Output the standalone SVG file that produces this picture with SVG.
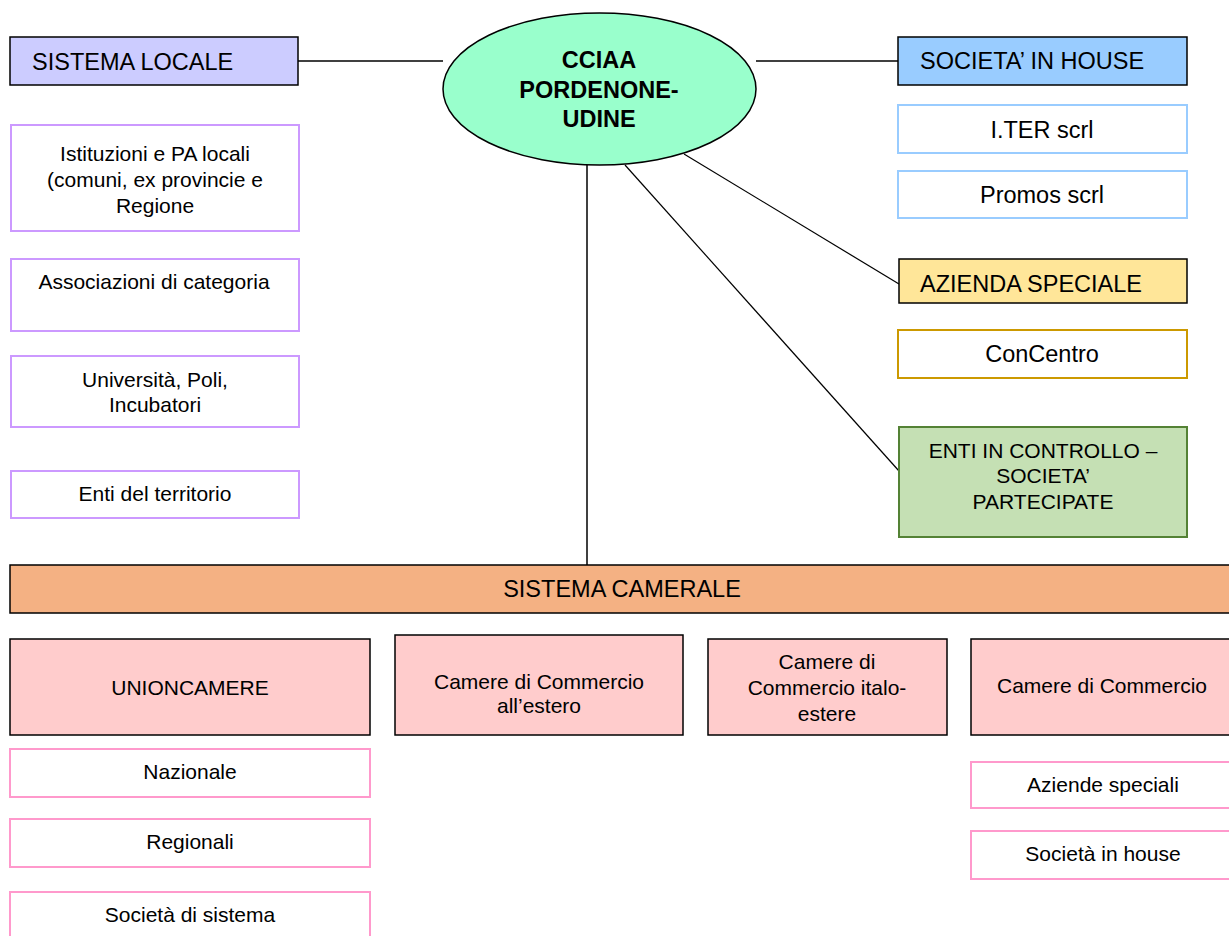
<svg xmlns="http://www.w3.org/2000/svg" width="1229" height="936" viewBox="0 0 1229 936">
<style>
text{font-family:"Liberation Sans",Arial,sans-serif;fill:#000}
.h{font-size:23.5px}
.s{font-size:21px;text-anchor:middle}
.m{font-size:23.5px;text-anchor:middle}
.b{font-size:23.5px;font-weight:bold;text-anchor:middle}
.hdr{stroke:#000;stroke-width:1.5}
.loc{fill:#fff;stroke:#cc99ff;stroke-width:2}
.inh{fill:#fff;stroke:#99ccff;stroke-width:2}
.pink{fill:#ffcccc;stroke:#000;stroke-width:1.5}
.sub{fill:#fff;stroke:#ff99cc;stroke-width:2}
.c{stroke:#000;fill:none}
</style>
<rect width="1229" height="936" fill="#fff"/>
<g id="connectors">
<line class="c" x1="298" y1="61" x2="443" y2="61" stroke-width="1.5"/>
<line class="c" x1="756" y1="61" x2="898" y2="61" stroke-width="1.5"/>
<line class="c" x1="587" y1="165" x2="587" y2="565" stroke-width="1.5"/>
<line class="c" x1="684" y1="154" x2="899" y2="284" stroke-width="1.2"/>
<line class="c" x1="625" y1="165" x2="899" y2="471" stroke-width="1.2"/>
</g>
<g id="cciaa">
<ellipse cx="599.5" cy="89" rx="156.5" ry="76" fill="#99ffcc" stroke="#000" stroke-width="1.5"/>
<text class="b" x="599" y="68">CCIAA</text>
<text class="b" x="599" y="98">PORDENONE-</text>
<text class="b" x="599" y="127">UDINE</text>
</g>
<g id="sistema-locale">
<rect class="hdr" x="10" y="37" width="288" height="48" fill="#ccccff"/>
<text class="h" x="32" y="70">SISTEMA LOCALE</text>
</g>
<g id="istituzioni">
<rect class="loc" x="11" y="125" width="288" height="106"/>
<text class="s" x="155" y="161">Istituzioni e PA locali</text>
<text class="s" x="155" y="187">(comuni, ex provincie e</text>
<text class="s" x="155" y="213">Regione</text>
</g>
<g id="associazioni">
<rect class="loc" x="11" y="259" width="288" height="72"/>
<text class="s" x="154" y="289">Associazioni di categoria</text>
</g>
<g id="universita">
<rect class="loc" x="11" y="356" width="288" height="71"/>
<text class="s" x="155" y="387">Università, Poli,</text>
<text class="s" x="155" y="412">Incubatori</text>
</g>
<g id="enti-territorio">
<rect class="loc" x="11" y="471" width="288" height="47"/>
<text class="s" x="155" y="501">Enti del territorio</text>
</g>
<g id="societa-in-house">
<rect class="hdr" x="898" y="37" width="289" height="48" fill="#99ccff"/>
<text class="h" x="920" y="69">SOCIETA’ IN HOUSE</text>
</g>
<g id="iter">
<rect class="inh" x="898" y="105" width="289" height="48"/>
<text class="m" x="1042" y="138">I.TER scrl</text>
</g>
<g id="promos">
<rect class="inh" x="898" y="171" width="289" height="47"/>
<text class="m" x="1042" y="203">Promos scrl</text>
</g>
<g id="azienda-speciale">
<rect class="hdr" x="899" y="259" width="288" height="44" fill="#ffe699"/>
<text class="h" x="920" y="292">AZIENDA SPECIALE</text>
</g>
<g id="concentro">
<rect x="898" y="330" width="289" height="48" fill="#fff" stroke="#cc9900" stroke-width="2"/>
<text class="m" x="1042" y="362">ConCentro</text>
</g>
<g id="enti-controllo">
<rect x="899" y="427" width="288" height="110" fill="#c5e0b4" stroke="#548235" stroke-width="2"/>
<text class="s" x="1043" y="458">ENTI IN CONTROLLO –</text>
<text class="s" x="1043" y="483">SOCIETA’</text>
<text class="s" x="1043" y="509">PARTECIPATE</text>
</g>
<g id="sistema-camerale">
<rect class="hdr" x="10" y="565" width="1224" height="48" fill="#f4b183"/>
<text class="h" x="622" y="597" text-anchor="middle">SISTEMA CAMERALE</text>
</g>
<g id="unioncamere">
<rect class="pink" x="10" y="639" width="360" height="96"/>
<text class="s" x="190" y="695">UNIONCAMERE</text>
</g>
<g id="camere-estero">
<rect class="pink" x="395" y="635" width="288" height="100"/>
<text class="s" x="539" y="689">Camere di Commercio</text>
<text class="s" x="539" y="713">all’estero</text>
</g>
<g id="camere-italo-estere">
<rect class="pink" x="708" y="639" width="239" height="96"/>
<text class="s" x="827" y="669">Camere di</text>
<text class="s" x="827" y="695">Commercio italo-</text>
<text class="s" x="827" y="721">estere</text>
</g>
<g id="camere-commercio">
<rect class="pink" x="971" y="639" width="262" height="96"/>
<text class="s" x="1102" y="693">Camere di Commercio</text>
</g>
<g id="nazionale">
<rect class="sub" x="10" y="749" width="360" height="48"/>
<text class="s" x="190" y="779">Nazionale</text>
</g>
<g id="regionali">
<rect class="sub" x="10" y="819" width="360" height="48"/>
<text class="s" x="190" y="849">Regionali</text>
</g>
<g id="societa-sistema">
<rect class="sub" x="10" y="892" width="360" height="48"/>
<text class="s" x="190" y="922">Società di sistema</text>
</g>
<g id="aziende-speciali">
<rect class="sub" x="971" y="762" width="262" height="46"/>
<text class="s" x="1103" y="792">Aziende speciali</text>
</g>
<g id="societa-in-house-cc">
<rect class="sub" x="971" y="831" width="262" height="48"/>
<text class="s" x="1103" y="861">Società in house</text>
</g>
</svg>
